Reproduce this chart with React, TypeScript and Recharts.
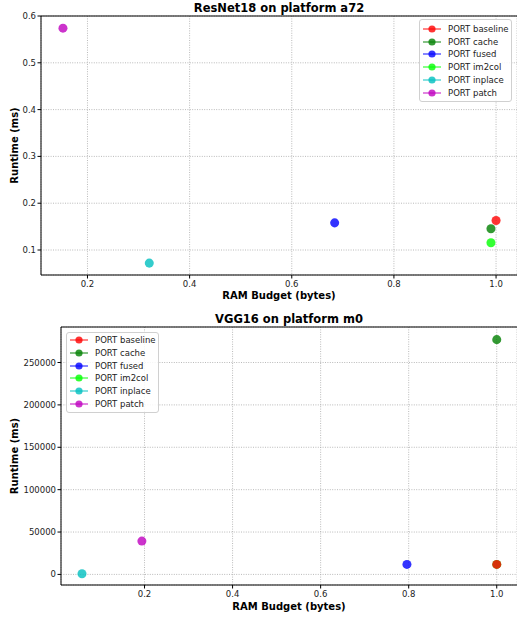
import React from 'react';
import { ScatterChart, Scatter, XAxis, YAxis, ZAxis, CartesianGrid, ReferenceLine, Label } from 'recharts';

const seriesNames = ['PORT baseline', 'PORT cache', 'PORT fused', 'PORT im2col', 'PORT inplace', 'PORT patch'];
const seriesColors = ['#ff0000', '#008000', '#0000ff', '#00ff00', '#00bfbf', '#bf00bf'];
// draw order: baseline ends up on top of im2col in the VGG plot
const drawOrder = [3, 1, 2, 4, 5, 0];

const resnetRam = [1.0, 0.99, 0.684, 0.99, 0.321, 0.152];
const resnetRuntime = [0.163, 0.1455, 0.158, 0.1155, 0.072, 0.574];
const resnetXTicks = [0.2, 0.4, 0.6, 0.8, 1.0];
const resnetYTicks = [0.1, 0.2, 0.3, 0.4, 0.5, 0.6];

const vggRam = [1.0, 1.0, 0.796, 1.0, 0.058, 0.194];
const vggRuntime = [11800, 277000, 11800, 11800, 800, 39300];
const vggXTicks = [0.2, 0.4, 0.6, 0.8, 1.0];
const vggYTicks = [0, 50000, 100000, 150000, 200000, 250000];

const FONT = '"DejaVu Sans", sans-serif';
const tickStyle = { fill: '#222', fontSize: 8.5, fontFamily: FONT };

const PlotLegend = ({ left, top, padTop }: { left: number; top: number; padTop: number }) => (
  <div
    style={{
      position: 'absolute',
      left,
      top,
      width: 93,
      paddingTop: padTop,
      paddingBottom: 1.5,
      border: '1px solid #d0d0d0',
      borderRadius: 3,
      background: 'rgba(255,255,255,0.85)',
      fontFamily: FONT,
      fontSize: 8.5,
      color: '#222',
      boxSizing: 'border-box',
    }}
  >
    {seriesNames.map((name, i) => (
      <div key={name} style={{ height: 12.9, display: 'flex', alignItems: 'center' }}>
        <svg width={27} height={12} style={{ flex: 'none' }}>
          <line x1={3} x2={21} y1={6} y2={6} stroke={seriesColors[i]} strokeOpacity={0.8} strokeWidth={1.2} />
          <circle cx={12} cy={6} r={3.6} fill={seriesColors[i]} fillOpacity={0.8} />
        </svg>
        <span style={{ whiteSpace: 'nowrap', marginLeft: 1 }}>{name}</span>
      </div>
    ))}
  </div>
);

type PanelProps = {
  title: string;
  ram: number[];
  runtime: number[];
  xTicks: number[];
  yTicks: number[];
  xDomain: [number, number];
  yDomain: [number, number];
  yWidth: number;
  height: number;
  top: number;
  xAxisHeight: number;
  yFormat: (v: number) => string;
  labelOffset: number;
};

const Panel = (p: PanelProps) => (
  <div style={{ position: 'absolute', left: 0, top: 0, width: 517, height: p.height }}>
    <ScatterChart width={517} height={p.height} margin={{ top: p.top, right: 0, bottom: 0, left: 0 }}>
      <CartesianGrid strokeDasharray="1 1.4" stroke="#a8a8a8" strokeWidth={0.8} />
      <XAxis
        type="number"
        dataKey="x"
        domain={p.xDomain}
        ticks={p.xTicks}
        allowDataOverflow
        height={p.xAxisHeight}
        tickSize={3.5}
        tickMargin={2}
        tick={tickStyle}
        tickFormatter={(v: number) => v.toFixed(1)}
        axisLine={{ stroke: '#000', strokeWidth: 1 }}
        tickLine={{ stroke: '#000' }}
      >
        <Label
          value="RAM Budget (bytes)"
          position="insideBottom"
          offset={p.labelOffset}
          style={{ fontFamily: FONT, fontSize: 10, fontWeight: 'bold', fill: '#000' }}
        />
      </XAxis>
      <YAxis
        type="number"
        dataKey="y"
        domain={p.yDomain}
        ticks={p.yTicks}
        allowDataOverflow
        width={p.yWidth}
        tickSize={3.5}
        tickMargin={1.5}
        tick={tickStyle}
        tickFormatter={p.yFormat}
        axisLine={{ stroke: '#000', strokeWidth: 1 }}
        tickLine={{ stroke: '#000' }}
      >
        <Label
          content={(props: any) => {
            const vb = props.viewBox || { y: p.top, height: 0 };
            const cy = vb.y + vb.height / 2;
            return (
              <text
                x={14}
                y={cy}
                transform={`rotate(-90, 14, ${cy})`}
                textAnchor="middle"
                dominantBaseline="central"
                style={{ fontFamily: FONT, fontSize: 10, fontWeight: 'bold', fill: '#000' }}
              >
                Runtime (ms)
              </text>
            );
          }}
        />
      </YAxis>
      <ZAxis range={[42, 42]} />
      <ReferenceLine y={p.yDomain[1]} stroke="#000" strokeWidth={1} />
      {drawOrder.map((i) => (
        <Scatter
          key={seriesNames[i]}
          name={seriesNames[i]}
          data={[{ x: p.ram[i], y: p.runtime[i] }]}
          fill={seriesColors[i]}
          fillOpacity={0.8}
          isAnimationActive={false}
        />
      ))}
    </ScatterChart>
    <div
      style={{
        position: 'absolute',
        left: p.yWidth,
        top: p.top - 16,
        width: 517 - p.yWidth,
        textAlign: 'center',
        fontFamily: FONT,
        fontWeight: 'bold',
        fontSize: 11.5,
        lineHeight: '16px',
        color: '#000',
      }}
    >
      {p.title}
    </div>
  </div>
);

export default function App() {
  return (
    <div style={{ position: 'absolute', left: 0, top: 0, width: 517, height: 619, background: '#fff' }}>
      <div style={{ position: 'absolute', left: 0, top: 0, width: 517, height: 310 }}>
        <Panel
          title="ResNet18 on platform a72"
          ram={resnetRam}
          runtime={resnetRuntime}
          xTicks={resnetXTicks}
          yTicks={resnetYTicks}
          xDomain={[0.109, 1.041]}
          yDomain={[0.0466, 0.6]}
          yWidth={41}
          height={310}
          top={16}
          xAxisHeight={35}
          yFormat={(v: number) => v.toFixed(1)}
          labelOffset={11}
        />
        <PlotLegend left={419} top={19} padTop={2.2} />
      </div>
      <div style={{ position: 'absolute', left: 0, top: 310, width: 517, height: 309 }}>
        <Panel
          title="VGG16 on platform m0"
          ram={vggRam}
          runtime={vggRuntime}
          xTicks={vggXTicks}
          yTicks={vggYTicks}
          xDomain={[0.0103, 1.046]}
          yDomain={[-12480, 291900]}
          yWidth={61}
          height={309}
          top={17}
          xAxisHeight={34}
          yFormat={(v: number) => String(v)}
          labelOffset={9}
        />
        <PlotLegend left={66} top={22} padTop={0.3} />
      </div>
    </div>
  );
}
